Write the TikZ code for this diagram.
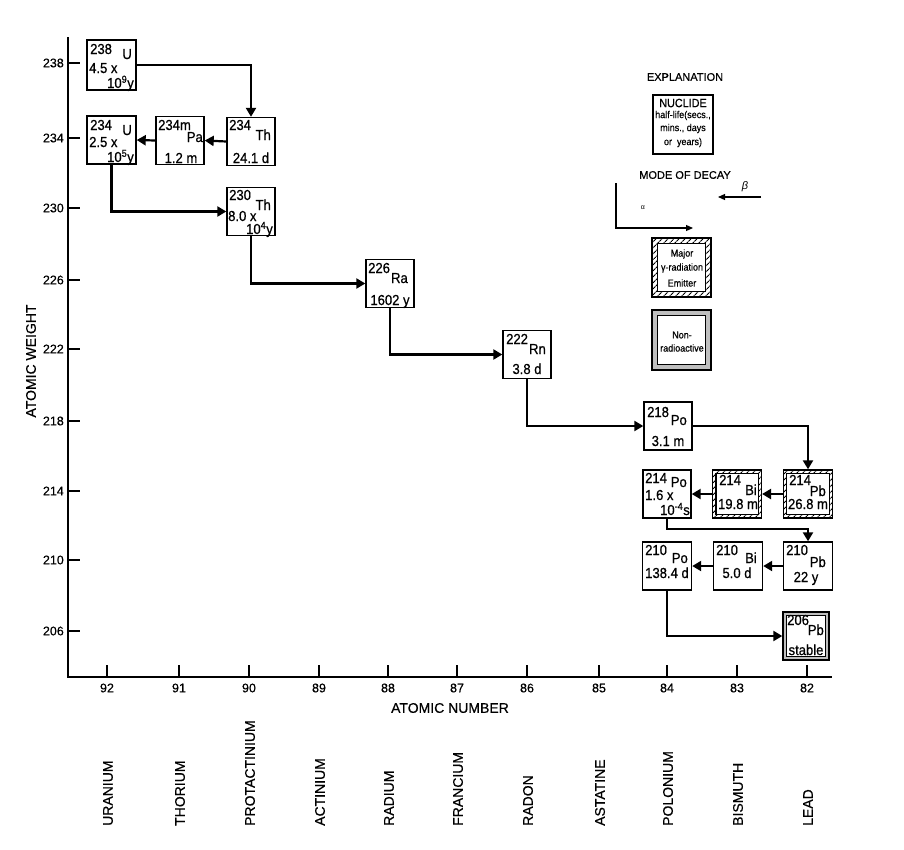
\documentclass[tikz,border=0pt]{standalone}
\usepackage{fontspec}
\setmainfont{Liberation Sans}
\newfontfamily\cond[FakeStretch=0.9,FakeBold=0.6]{Liberation Sans}
\newfontfamily\heavy[FakeBold=0.5]{Liberation Sans}
\usetikzlibrary{arrows.meta,patterns.meta}
\newcommand\fsz[1]{\fontsize{#1}{#1}\selectfont}
\begin{document}
\begin{tikzpicture}[x=1pt,y=-1pt,
  box/.style={draw,line width=1.4pt,minimum width=48pt,minimum height=48pt,inner sep=0pt},
  hatchbox/.style={box,pattern={Lines[angle=45,distance=4pt,line width=1.1pt]}},
  stonebox/.style={box,fill=black!25},
  innerbox/.style={draw,line width=1.1pt,fill=white},
  bt/.style={font=\cond\fsz{14.5},inner sep=0pt},
  lt/.style={font=\cond\fsz{10},inner sep=0pt},
  dk/.style={line width=2.2pt,-{Triangle[length=9pt,width=10pt]}},
  lg/.style={line width=1.2pt,-{Triangle[length=7pt,width=6pt]}},
  axis/.style={line width=1.5pt},
  tk/.style={font=\heavy\fsz{12.5},inner sep=0pt},
  ax/.style={font=\heavy\fsz{14},inner sep=0pt}]
\useasboundingbox (0,0) rectangle (904,849);

% axes
\coordinate (o) at (68,677);
\coordinate (ytop) at (68,37);
\coordinate (xend) at (832,677);
\draw[axis] (ytop) -- (o) -- (xend);
\foreach \w/\y in {238/63,234/138,230/208,226/280,222/349,218/421,214/491,210/560,206/631}{
  \draw[axis] (68,\y) -- (80,\y);
  \node[tk,anchor=east] (yt\w) at (64,\y) {\w};
}
\foreach \z/\x/\el in {92/107/URANIUM,91/179/THORIUM,90/249/PROTACTINIUM,89/319/ACTINIUM,88/388/RADIUM,87/457/FRANCIUM,86/527/RADON,85/599/ASTATINE,84/667/POLONIUM,83/737/BISMUTH,82/807/LEAD}{
  \draw[axis] (\x,665) -- (\x,677);
  \node[tk] (xt\z) at (\x,688) {\z};
  \node[ax,rotate=90,anchor=west] (el\z) at (\x+1,826) {\el};
}
\node[ax] (xlab) at (450,708) {ATOMIC NUMBER};
\node[ax,rotate=90] (ylab) at (31,361) {ATOMIC WEIGHT};

% nuclide boxes
\node[box,minimum width=49pt,minimum height=50pt] (U238) at (111.5,65) {};
\node[box,minimum width=49pt] (U234) at (111.5,140) {};
\node[box] (Pa234) at (180,140.5) {};
\node[box] (Th234) at (251,141.5) {};
\node[box] (Th230) at (251,211.5) {};
\node[box] (Ra226) at (390,283.5) {};
\node[box] (Rn222) at (527,354.5) {};
\node[box] (Po218) at (668,426) {};
\node[box] (Po214) at (667,494) {};
\node[hatchbox,minimum width=49pt] (Bi214) at (737,494) {};
\node[hatchbox,minimum width=49pt] (Pb214) at (808,494) {};
\node[box,minimum width=49pt] (Po210) at (667,566) {};
\node[box,minimum width=49pt] (Bi210) at (738,566) {};
\node[box,minimum width=49pt] (Pb210) at (808,566) {};
\node[stonebox,minimum width=46pt] (Pb206) at (806,636) {};
\draw[innerbox] ([shift={(4,4)}]Bi214.north west) rectangle ([shift={(-4,-4)}]Bi214.south east);
\draw[innerbox] ([shift={(4,4)}]Pb214.north west) rectangle ([shift={(-4,-4)}]Pb214.south east);
\draw[innerbox] ([shift={(4,4)}]Pb206.north west) rectangle ([shift={(-4,-4)}]Pb206.south east);

% box texts
\node[bt,anchor=base west] (U238m) at (90,54) {238};
\node[bt,anchor=base east] (U238s) at (132,59) {U};
\node[bt,anchor=base west] (U238h) at (89,73) {4.5 x};
\node[bt,anchor=base east] (U238e) at (134,88) {10\textsuperscript{9}y};

\node[bt,anchor=base west] (U234m) at (90,130) {234};
\node[bt,anchor=base east] (U234s) at (132,135) {U};
\node[bt,anchor=base west] (U234h) at (89,147) {2.5 x};
\node[bt,anchor=base east] (U234e) at (134,162) {10\textsuperscript{5}y};

\node[bt,anchor=base west] (Pa234m) at (158,130) {234m};
\node[bt,anchor=base east] (Pa234s) at (203,142) {Pa};
\node[bt,anchor=base] (Pa234h) at (181,163) {1.2 m};

\node[bt,anchor=base west] (Th234m) at (229,130) {234};
\node[bt,anchor=base east] (Th234s) at (271,140) {Th};
\node[bt,anchor=base] (Th234h) at (251,163) {24.1 d};

\node[bt,anchor=base west] (Th230m) at (229,200) {230};
\node[bt,anchor=base east] (Th230s) at (271,210) {Th};
\node[bt,anchor=base west] (Th230h) at (228,221) {8.0 x};
\node[bt,anchor=base east] (Th230e) at (273,234) {10\textsuperscript{4}y};

\node[bt,anchor=base west] (Ra226m) at (368,273) {226};
\node[bt,anchor=base east] (Ra226s) at (408,283) {Ra};
\node[bt,anchor=base] (Ra226h) at (390,305) {1602 y};

\node[bt,anchor=base west] (Rn222m) at (506,344) {222};
\node[bt,anchor=base east] (Rn222s) at (546,354) {Rn};
\node[bt,anchor=base] (Rn222h) at (527,374) {3.8 d};

\node[bt,anchor=base west] (Po218m) at (647,417) {218};
\node[bt,anchor=base east] (Po218s) at (687,425) {Po};
\node[bt,anchor=base] (Po218h) at (668,446) {3.1 m};

\node[bt,anchor=base west] (Po214m) at (645,483) {214};
\node[bt,anchor=base east] (Po214s) at (687,487) {Po};
\node[bt,anchor=base west] (Po214h) at (645,500) {1.6 x};
\node[bt,anchor=base east] (Po214e) at (690,515) {10\textsuperscript{-4}s};

\node[bt,anchor=base west] (Bi214m) at (719,485) {214};
\node[bt,anchor=base east] (Bi214s) at (757,495) {Bi};
\node[bt,anchor=base] (Bi214h) at (738,509) {19.8 m};

\node[bt,anchor=base west] (Pb214m) at (789,485) {214};
\node[bt,anchor=base east] (Pb214s) at (826,496) {Pb};
\node[bt,anchor=base] (Pb214h) at (808,509) {26.8 m};

\node[bt,anchor=base west] (Po210m) at (645,555) {210};
\node[bt,anchor=base east] (Po210s) at (688,563) {Po};
\node[bt,anchor=base] (Po210h) at (667,578) {138.4 d};

\node[bt,anchor=base west] (Bi210m) at (716,555) {210};
\node[bt,anchor=base east] (Bi210s) at (757,563) {Bi};
\node[bt,anchor=base] (Bi210h) at (737,578) {5.0 d};

\node[bt,anchor=base west] (Pb210m) at (786,555) {210};
\node[bt,anchor=base east] (Pb210s) at (826,567) {Pb};
\node[bt,anchor=base] (Pb210h) at (806,582) {22 y};

\node[bt,anchor=base west] (Pb206m) at (787,625) {206};
\node[bt,anchor=base east] (Pb206s) at (824,635) {Pb};
\node[bt,anchor=base] (Pb206h) at (806,655) {stable};

% decay arrows
\draw[dk] (U238.east) -| (Th234.north);
\draw[dk] (Th234.west) -- (Pa234.east);
\draw[dk] (Pa234.west) -- (U234.east);
\draw[dk] (U234.south) |- (Th230.west);
\draw[dk] (Th230.south) |- (Ra226.west);
\draw[dk] (Ra226.south) |- (Rn222.west);
\draw[dk] (Rn222.south) |- (Po218.west);
\draw[dk] (Po218.east) -| (Pb214.north);
\draw[dk] (Pb214.west) -- (Bi214.east);
\draw[dk] (Bi214.west) -- (Po214.east);
\draw[dk] (Po214.south) -- ++(0,10) -| (Pb210.north);
\draw[dk] (Pb210.west) -- (Bi210.east);
\draw[dk] (Bi210.west) -- (Po210.east);
\draw[dk] (Po210.south) |- (Pb206.west);

% explanation
\node[font=\heavy\fsz{11},inner sep=0pt] (expl) at (685,77) {EXPLANATION};
\node[draw,line width=1.3pt,minimum width=60pt,minimum height=59pt,inner sep=0pt] (key) at (683,124.5) {};
\node[font=\cond\fsz{12},inner sep=0pt] (keyn) at (683,103) {NUCLIDE};
\node[lt] (keyh1) at (683,115.5) {half-life(secs.,};
\node[lt] (keyh2) at (683,128.5) {mins., days};
\node[lt] (keyh3) at (683,142.5) {or\ \ years)};
\node[font=\heavy\fsz{11},inner sep=0pt] (mode) at (685,175) {MODE OF DECAY};
\coordinate (a1) at (616,183);
\coordinate (a2) at (616,228);
\coordinate (a3) at (693,228);
\draw[lg] (a1) -- (a2) -- (a3);
\node[font=\fsz{7},inner sep=0pt] (alab) at (643,208) {α};
\coordinate (b1) at (761,197);
\coordinate (b2) at (718,197);
\draw[lg] (b1) -- (b2);
\node[font=\itshape\fsz{11},inner sep=0pt] (blab) at (745,187) {β};

\node[hatchbox,minimum width=59pt,minimum height=59pt] (gam) at (681.5,267.5) {};
\draw[innerbox] ([shift={(6,6)}]gam.north west) rectangle ([shift={(-6,-6)}]gam.south east);
\node[lt] (gam1) at (682,254) {Major};
\node[lt] (gam2) at (682,268) {γ-radiation};
\node[lt] (gam3) at (682,283) {Emitter};

\node[stonebox,minimum width=59pt,minimum height=60pt] (non) at (681.5,340) {};
\draw[innerbox] ([shift={(6,6)}]non.north west) rectangle ([shift={(-6,-6)}]non.south east);
\node[lt] (non1) at (682,335) {Non-};
\node[lt] (non2) at (682,348) {radioactive};
\end{tikzpicture}
\end{document}
